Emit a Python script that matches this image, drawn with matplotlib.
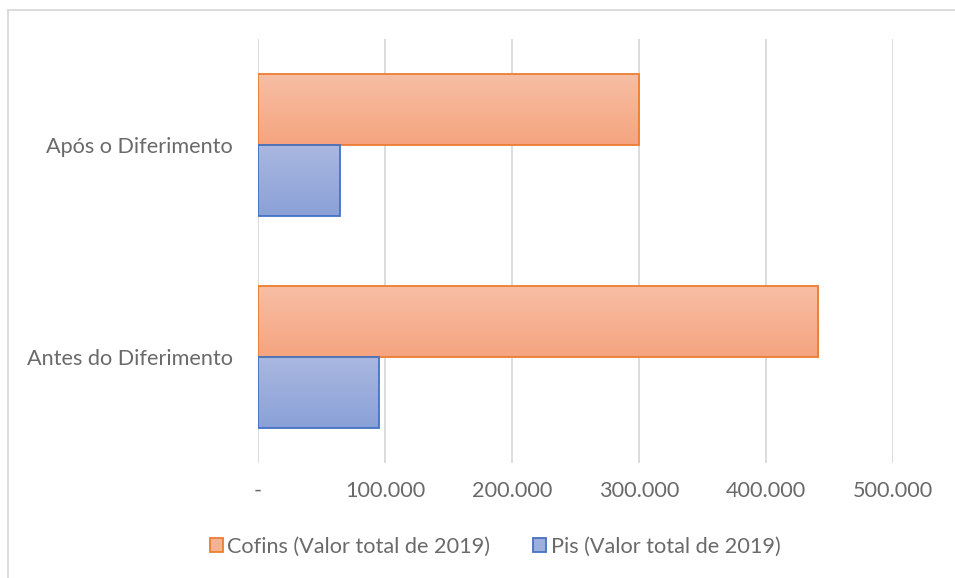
import numpy as np
import matplotlib.pyplot as plt
from matplotlib.colors import LinearSegmentedColormap
from matplotlib.patches import Patch, Rectangle
from matplotlib.lines import Line2D

plt.rcParams['font.family'] = ['Lato', 'DejaVu Sans']

categories = ["Antes do Diferimento", "Após o Diferimento"]
cofins = [441000, 300000]
pis = [95000, 64500]
series_names = ["Cofins (Valor total de 2019)", "Pis (Valor total de 2019)"]
xticks = [0, 100000, 200000, 300000, 400000, 500000]

orange_grad = ["#F7BFA5", "#F5A47F"]
blue_grad = ["#AAB8E1", "#8AA1D7"]
orange_edge = "#ED7D31"
blue_edge = "#4472C4"
text_col = "#6A6A6A"
fs = 15.6

fig = plt.figure(figsize=(9.55, 5.78), dpi=100)
ax = fig.add_axes([258 / 955, 1 - 463 / 578, (893 - 258) / 955, (463 - 39) / 578])

y = np.arange(len(categories))
h = 0.335
bars_c = ax.barh(y + h / 2, cofins, height=h, color="none", edgecolor=orange_edge, linewidth=1.3, zorder=3)
bars_p = ax.barh(y - h / 2, pis, height=h, color="none", edgecolor=blue_edge, linewidth=1.3, zorder=3)

# vertical gradient inside each bar (light at top, darker at bottom)
grad = np.linspace(0, 1, 256).reshape(-1, 1)
for bars, cols in ((bars_c, orange_grad), (bars_p, blue_grad)):
    cmap = LinearSegmentedColormap.from_list("g", cols)
    for b in bars:
        x0, y0 = b.get_x(), b.get_y()
        w, hh = b.get_width(), b.get_height()
        im = ax.imshow(grad, cmap=cmap, aspect="auto", extent=(x0, x0 + w, y0, y0 + hh),
                       origin="upper", zorder=2, interpolation="bilinear")
        im.set_clip_path(Rectangle((x0, y0), w, hh, transform=ax.transData))

ax.set_xlim(0, 500000)
ax.set_ylim(-0.5, 1.5)
ax.set_xticks(xticks)
ax.set_xticklabels(["-" if v == 0 else f"{v:,}".replace(",", ".") for v in xticks])
ax.set_yticks(y)
ax.set_yticklabels(categories)
ax.tick_params(axis="both", length=0, labelsize=fs, colors=text_col)
ax.tick_params(axis="x", pad=13)
ax.tick_params(axis="y", pad=18)
ax.grid(axis="x", color="#D9D9D9", linewidth=1.3, zorder=0)
for s in ax.spines.values():
    s.set_visible(False)

handles = [Patch(facecolor="#F6B393", edgecolor=orange_edge, linewidth=1.3),
           Patch(facecolor="#9DB0DD", edgecolor=blue_edge, linewidth=1.3)]
fig.legend(handles, series_names, loc="center", bbox_to_anchor=(495 / 955, 1 - 547 / 578),
           ncol=2, frameon=False, fontsize=fs, labelcolor=text_col,
           handlelength=0.6, handleheight=0.6, handletextpad=0.2, columnspacing=2.0)

# chart-area border (only left and top edges fall inside the image)
fig.add_artist(Line2D([7.5 / 955, 7.5 / 955], [0, 1 - 10 / 578], transform=fig.transFigure,
                      color="#D9D9D9", linewidth=1.3))
fig.add_artist(Line2D([7.5 / 955, 1], [1 - 10 / 578, 1 - 10 / 578], transform=fig.transFigure,
                      color="#D9D9D9", linewidth=1.3))

fig.savefig("out.png", dpi=100)
